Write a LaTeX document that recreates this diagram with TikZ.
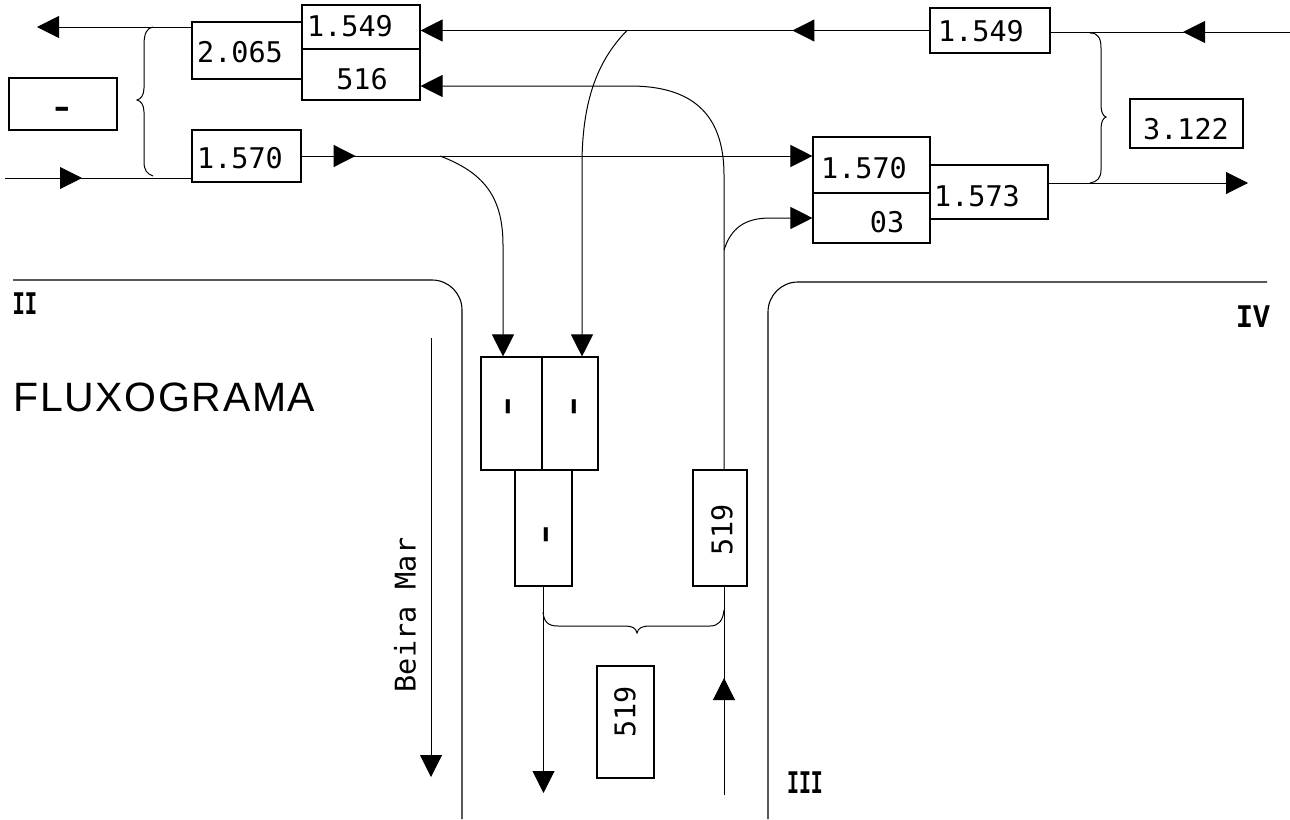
\documentclass[tikz,border=0pt]{standalone}
\usepackage{fontspec}
\setmainfont{Liberation Serif}
\newfontfamily\tw{DejaVu Sans Mono}
\newfontfamily\fluxfont[LetterSpace=4]{Liberation Sans}
\newfontfamily\romfont{Liberation Mono}
\usetikzlibrary{arrows.meta,decorations.markings}
\tikzset{
  Ar/.tip={Triangle[length=22pt,width=22pt]},
  box/.style={draw, rectangle, inner sep=0pt, line width=1.1pt},
  sz/.style 2 args={minimum width=#1, minimum height=#2},
  txt/.style={inner sep=0pt, font=\tw\fontsize{28.5}{31}\selectfont},
  dashtxt/.style={inner sep=0pt, font=\tw\bfseries\fontsize{28.5}{31}\selectfont},
  rom/.style={inner sep=0pt, font=\romfont\bfseries\fontsize{33}{35}\selectfont},
  flow/.style={-Ar},
  midtip/.style={postaction={decorate, decoration={markings, mark=at position #1 with {\arrow{Ar}}}}},
  road/.style={line width=1.1pt, rounded corners=30pt},
}
\begin{document}
\begin{tikzpicture}[x=1pt, y=-1pt, line width=1pt]
\useasboundingbox (0,0) rectangle (1290,819);

% ---- boxes ----
\node[box,sz={110pt}{57pt}] (b2065)  at (247,50.5)   {};
\node[box,sz={118pt}{44pt}] (b1549L) at (361,27)     {};
\node[box,sz={118pt}{51pt}] (b516)   at (361,74.5)   {};
\node[box,sz={108pt}{52pt}] (bdash)  at (63,104)     {};
\node[box,sz={109pt}{52pt}] (b1570L) at (246.5,156)  {};
\node[box,sz={120pt}{45pt}] (b1549R) at (990,30.5)   {};
\node[box,sz={113pt}{49pt}] (b3122)  at (1186.5,123.5) {};
\node[box,sz={117pt}{56pt}] (b1570R) at (871.5,165)  {};
\node[box,sz={117pt}{50pt}] (b03)    at (871.5,218)  {};
\node[box,sz={118pt}{54pt}] (b1573)  at (989,192)    {};
\node[box,sz={61pt}{113pt}] (bA)     at (511.5,413.5) {};
\node[box,sz={56pt}{113pt}] (bB)     at (570,413.5)  {};
\node[box,sz={57pt}{116pt}] (bC)     at (543.5,528)  {};
\node[box,sz={54pt}{116pt}] (b519a)  at (720,528)    {};
\node[box,sz={57pt}{112pt}] (b519b)  at (625.5,722)  {};

% ---- box texts ----
\node[txt] (t2065)  at (240,52)  {2.065};
\node[txt] (t1549L) at (350,26)  {1.549};
\node[txt] (t516)   at (362,79)  {516};
\node[dashtxt,xscale=1.4] (tdash)  at (62,112)  {-};
\node[txt] (t1570L) at (240,158) {1.570};
\node[txt] (t1549R) at (981,31)  {1.549};
\node[txt] (t3122)  at (1186,129) {3.122};
\node[txt] (t1570R) at (864,168) {1.570};
\node[txt] (t03)    at (887,222) {03};
\node[txt] (t1573)  at (977,196) {1.573};
\node[dashtxt,rotate=90,xscale=1.6] (tA) at (511,407) {-};
\node[dashtxt,rotate=90,xscale=1.6] (tB) at (577,407) {-};
\node[dashtxt,rotate=90,xscale=1.6] (tC) at (549,535) {-};
\node[txt,rotate=90] (t519a) at (722,530) {519};
\node[txt,rotate=90] (t519b) at (625,712) {519};

% ---- labels ----
\node[inner sep=0pt, anchor=west, font=\fluxfont\fontsize{41}{45}\selectfont] (flux) at (13,397) {FLUXOGRAMA};
\node[txt,rotate=90] (beira) at (405,615) {Beira Mar};
\node[rom,xscale=0.62] (r2) at (25,304) {II};
\node[rom,xscale=0.85] (r4) at (1253,317) {IV};
\node[rom,xscale=0.6] (r3) at (805,783) {III};

% ---- roads ----
\draw[road] (13,280) -- (462,280) -- (462,819);
\draw[road] (768,819) -- (768,282) -- (1267,282);

% ---- free ends / junctions ----
\coordinate (outL) at (37,27);
\coordinate (inL)  at (5,178);
\coordinate (inR)  at (1290,32);
\coordinate (outR) at (1248,183);
\coordinate (j1) at (627,30.5);
\coordinate (j2) at (440,156);
\coordinate (j3) at (724,250);
\coordinate (y86) at (0,86);
\coordinate (bm1) at (431,338);
\coordinate (bm2) at (431,777);
\coordinate (dC) at (543.5,793);
\coordinate (uS) at (724,795);

% ---- connectors ----
\draw[flow] (b2065.west |- outL) -- (outL);
\draw[midtip=77pt] (inL) -- (inL -| b1570L.west);
\draw[flow, midtip=54pt] (b1570L.east) -- (b1570L.east -| b1570R.west);
\draw[midtip=107pt] (inR) -- (inR -| b1549R.east);
\draw[flow, midtip=137pt] (b1549R.west) -- (b1549R.west -| b1549L.east);
\draw[flow] (j1) .. controls (598,60) and (582,100) .. (582,165) -- ([xshift=12pt]bB.north);
\draw[flow] ([xshift=4pt]b519a.north) -- (724,175) .. controls (724,112) and (690,86) .. (630,86) -- (b516.east |- y86);
\draw[flow] (j2) .. controls (482,172) and (503,195) .. (503,245) -- ([xshift=-8.5pt]bA.north);
\draw[flow] (j3) .. controls (731,228) and (745,218) .. (770,218) -- (b03.west);
\draw[flow] (b1573.east |- outR) -- (outR);
\draw[flow] (bm1) -- (bm2);
\draw[flow] (bC.south) -- (dC);
\draw[midtip=117pt] (uS) -- (uS |- b519a.south);

% ---- braces ----
\draw (153,27) .. controls (147,28) and (144,33) .. (144,45) -- (144,88)
  .. controls (144,95) and (141,99) .. (137,100)
  .. controls (141,101) and (144,105) .. (144,112) -- (144,162)
  .. controls (144,170) and (147,174) .. (153,176);
\draw (1090,33) .. controls (1098,33) and (1101,38) .. (1101,48) -- (1101,105)
  .. controls (1101,112) and (1103,116) .. (1106,117)
  .. controls (1103,118) and (1101,122) .. (1101,129) -- (1101,170)
  .. controls (1101,178) and (1097,182) .. (1090,183);
\draw (543,612) .. controls (544,622) and (548,626) .. (558,626) -- (625,626)
  .. controls (632,626) and (636,628) .. (637,633)
  .. controls (638,628) and (642,626) .. (650,626) -- (710,626)
  .. controls (719,626) and (723,620) .. (724,610);
\end{tikzpicture}
\end{document}
